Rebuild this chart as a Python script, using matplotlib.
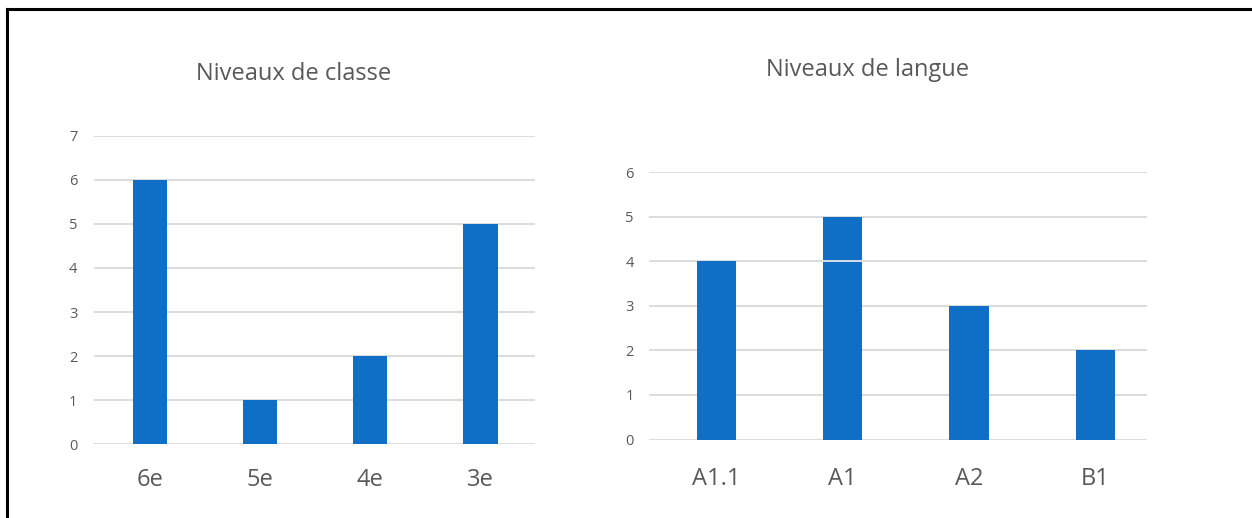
import matplotlib.pyplot as plt
from matplotlib.lines import Line2D

# data
classes = ['6e', '5e', '4e', '3e']
classe_counts = [6, 1, 2, 5]
langues = ['A1.1', 'A1', 'A2', 'B1']
langue_counts = [4, 5, 3, 2]

bar_col = '#0F6FC6'
grid_col = '#D9D9D9'
txt_col = '#595959'

plt.rcParams['font.family'] = ['Open Sans', 'DejaVu Sans']

W, H = 1252, 518
fig = plt.figure(figsize=(W / 100, H / 100), dpi=100)

def px_axes(x0, x1, ytop, ybot):
    # axes rectangle from pixel positions (origin top-left)
    return fig.add_axes([x0 / W, (H - ybot) / H, (x1 - x0) / W, (ybot - ytop) / H])

def style(ax, ymax, ypad, xpad):
    ax.set_ylim(0, ymax)
    ax.set_yticks(range(ymax + 1))
    for s in ax.spines.values():
        s.set_visible(False)
    ax.yaxis.grid(True, color=grid_col, lw=1.3)
    ax.set_axisbelow(True)
    ax.tick_params(axis='y', length=0, pad=ypad, labelsize=10.5, labelcolor=txt_col)
    ax.tick_params(axis='x', length=0, pad=xpad, labelsize=17, labelcolor=txt_col)

ax1 = px_axes(94, 535, 135.7, 444.3)
ax1.bar(range(len(classes)), classe_counts, width=0.31, color=bar_col, zorder=2)
ax1.set_xticks(range(len(classes)))
ax1.set_xticklabels(classes)
ax1.set_xlim(-0.511, 3.495)
style(ax1, 7, 12, 17)

ax2 = px_axes(649, 1147, 172.3, 439.5)
bars = ax2.bar(range(len(langues)), langue_counts, width=0.31, color=bar_col, zorder=2)
ax2.set_xticks(range(len(langues)))
ax2.set_xticklabels(langues)
ax2.set_xlim(-0.534, 3.409)
style(ax2, 6, 11, 20)
# light gridline showing through the A1 bar
b = bars[1]
ax2.hlines(4, b.get_x(), b.get_x() + b.get_width(), color='#E6E6E6', lw=1.3, zorder=3)

fig.text(293.5 / W, (H - 80) / H, 'Niveaux de classe', ha='center', va='baseline', fontsize=17, color=txt_col)
fig.text(867.5 / W, (H - 76.5) / H, 'Niveaux de langue', ha='center', va='baseline', fontsize=17, color=txt_col)

# frame edges (left and top only)
fig.add_artist(Line2D([7 / W, 7 / W], [0, (H - 9) / H], color='black', lw=2.2, transform=fig.transFigure))
fig.add_artist(Line2D([7 / W, 1.0], [(H - 9) / H, (H - 9) / H], color='black', lw=2.2, transform=fig.transFigure))

plt.savefig('out.png', dpi=100)
